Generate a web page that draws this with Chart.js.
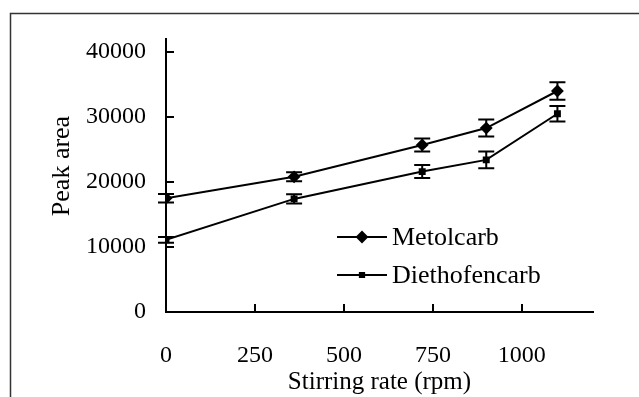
<!DOCTYPE html>
<html>
<head>
<meta charset="utf-8">
<script src="https://cdn.jsdelivr.net/npm/chart.js@4.4.1/dist/chart.umd.min.js"></script>
<style>
  html, body { margin: 0; padding: 0; background: #fff; }
  #wrap { width: 639px; height: 397px; }
</style>
</head>
<body>
<div id="wrap"><canvas id="chart" width="639" height="397"></canvas></div>
<script>
// data
const stirring = [0, 360, 720, 900, 1100];
const metolcarb = [17500, 20800, 25700, 28300, 34000];
const metolcarbErr = [650, 700, 1000, 1300, 1350];
const diethofencarb = [11100, 17400, 21600, 23400, 30500];
const diethofencarbErr = [450, 700, 1000, 1300, 1200];
const xTicks = [0, 250, 500, 750, 1000];
const yTicks = [0, 10000, 20000, 30000, 40000];

const serif = 'Liberation Serif';

function pts(xs, ys) {
  return xs.map((x, i) => ({ x: x, y: ys[i] }));
}

// outer frame (cut off at right/bottom like the source image)
const framePlugin = {
  id: 'frame',
  beforeDraw(chart) {
    const c = chart.ctx;
    c.save();
    c.strokeStyle = '#333';
    c.lineWidth = 1.5;
    c.strokeRect(10.5, 13.5, 700, 500);
    c.restore();
  }
};

// inward tick marks
const tickPlugin = {
  id: 'inTicks',
  afterDraw(chart) {
    const c = chart.ctx, xs = chart.scales.x, ys = chart.scales.y;
    const ca = chart.chartArea;
    c.save();
    c.strokeStyle = '#000';
    c.lineWidth = 2;
    c.beginPath();
    xTicks.forEach(v => {
      if (v === 0) return;
      const px = Math.round(xs.getPixelForValue(v));
      c.moveTo(px, ca.bottom);
      c.lineTo(px, ca.bottom - 8);
    });
    yTicks.forEach(v => {
      if (v === 0) return;
      const py = Math.round(ys.getPixelForValue(v));
      c.moveTo(ca.left, py);
      c.lineTo(ca.left + 8, py);
    });
    c.stroke();
    c.restore();
  }
};

// error bars with caps
const errPlugin = {
  id: 'errBars',
  afterDatasetsDraw(chart) {
    const c = chart.ctx, xs = chart.scales.x, ys = chart.scales.y;
    const sets = [[metolcarb, metolcarbErr], [diethofencarb, diethofencarbErr]];
    c.save();
    c.strokeStyle = '#000';
    c.lineWidth = 2;
    sets.forEach(([vals, errs]) => {
      vals.forEach((v, i) => {
        const px = xs.getPixelForValue(stirring[i]);
        const top = ys.getPixelForValue(v + errs[i]);
        const bot = ys.getPixelForValue(v - errs[i]);
        c.beginPath();
        c.moveTo(px, top); c.lineTo(px, bot);
        c.moveTo(px - 8, top); c.lineTo(px + 8, top);
        c.moveTo(px - 8, bot); c.lineTo(px + 8, bot);
        c.stroke();
      });
    });
    c.restore();
  }
};

// legend inside the plot + y title (sits a bit above the axis middle)
const legendPlugin = {
  id: 'inLegend',
  afterDraw(chart) {
    const c = chart.ctx;
    const rows = [
      { ds: chart.data.datasets[0], y: 237 },
      { ds: chart.data.datasets[1], y: 275 }
    ];
    c.save();
    rows.forEach(r => {
      c.strokeStyle = '#000';
      c.fillStyle = '#000';
      c.lineWidth = 2;
      c.beginPath();
      c.moveTo(337, r.y); c.lineTo(387, r.y);
      c.stroke();
      Chart.helpers.drawPoint(c, {
        pointStyle: r.ds.pointStyle,
        radius: r.ds.pointStyle === 'rect' ? 3 : 5,
        rotation: 0,
        borderWidth: 1
      }, 362, r.y);
      c.font = '26px "' + serif + '"';
      c.textBaseline = 'middle';
      c.textAlign = 'left';
      c.fillText(r.ds.label, 392, r.y + 1);
    });

    c.translate(62, 166);
    c.rotate(-Math.PI / 2);
    c.font = '26px "' + serif + '"';
    c.textAlign = 'center';
    c.textBaseline = 'middle';
    c.fillStyle = '#000';
    c.fillText('Peak area', 0, 0);
    c.restore();
  }
};

Chart.defaults.font.family = serif;
Chart.defaults.color = '#000';

new Chart(document.getElementById('chart'), {
  type: 'line',
  data: {
    datasets: [
      {
        label: 'Metolcarb',
        data: pts(stirring, metolcarb),
        borderColor: '#000',
        backgroundColor: '#000',
        borderWidth: 2,
        pointStyle: 'rectRot',
        pointRadius: 5,
        pointBackgroundColor: '#000',
        pointBorderColor: '#000',
        tension: 0
      },
      {
        label: 'Diethofencarb',
        data: pts(stirring, diethofencarb),
        borderColor: '#000',
        backgroundColor: '#000',
        borderWidth: 2,
        pointStyle: 'rect',
        pointRadius: 3.5,
        pointBackgroundColor: '#000',
        pointBorderColor: '#000',
        tension: 0
      }
    ]
  },
  options: {
    responsive: false,
    animation: false,
    devicePixelRatio: 1,
    layout: { padding: { top: 39, right: 46, left: 0, bottom: 0 } },
    plugins: { legend: { display: false }, tooltip: { enabled: false } },
    scales: {
      x: {
        type: 'linear',
        min: 0,
        max: 1200,
        afterBuildTicks: s => { s.ticks = xTicks.map(v => ({ value: v })); },
        afterFit: s => { s.height = 85; },
        grid: { display: false, drawTicks: false },
        border: { display: true, color: '#000', width: 2 },
        ticks: { padding: 29, font: { size: 24 }, color: '#000', maxRotation: 0, callback: v => String(v) },
        title: { display: true, text: 'Stirring rate (rpm)', font: { size: 25 }, color: '#000', padding: { top: 0, bottom: 0 } }
      },
      y: {
        min: 0,
        max: 42000,
        afterBuildTicks: s => { s.ticks = yTicks.map(v => ({ value: v })); },
        afterFit: s => { s.width = 166; },
        grid: { display: false, drawTicks: false },
        border: { display: true, color: '#000', width: 2 },
        ticks: { padding: 20, font: { size: 24 }, color: '#000', callback: v => String(v) },
        title: { display: false }
      }
    }
  },
  plugins: [framePlugin, errPlugin, tickPlugin, legendPlugin]
});
</script>
</body>
</html>
